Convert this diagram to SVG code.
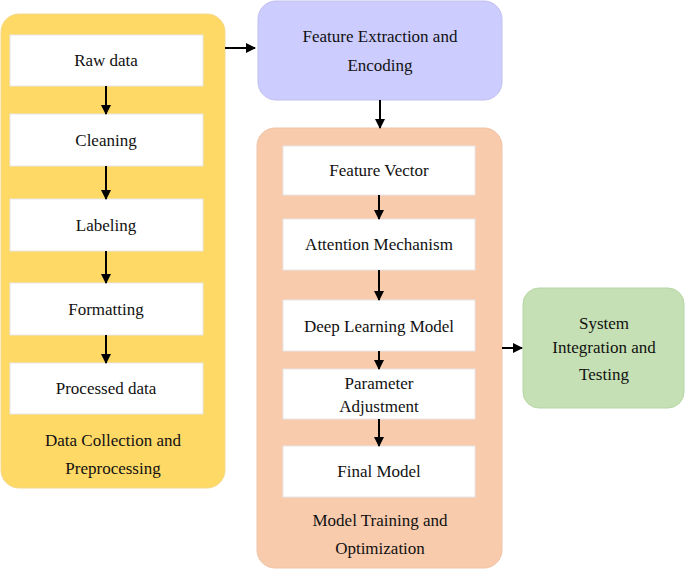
<svg xmlns="http://www.w3.org/2000/svg" width="685" height="569" viewBox="0 0 685 569">
<style>
text{font-family:"Liberation Serif","Times New Roman",serif;font-size:17px;fill:#111;text-anchor:middle}
.w{fill:#fff;stroke:#e6e6e6;stroke-width:1}
.a{stroke:#000;stroke-width:2;fill:none;marker-end:url(#ah)}
</style>
<defs><marker id="ah" markerWidth="10" markerHeight="10" refX="9" refY="5" orient="auto" markerUnits="userSpaceOnUse"><path d="M0,0 L10,5 L0,10 Z" fill="#000"/></marker></defs>
<g id="data-collection">
<rect x="1" y="14" width="224" height="474" rx="18" fill="#FFD966" stroke="#F5D88A"/>
<text x="113" y="446">Data Collection and</text><text x="113" y="474">Preprocessing</text>
</g>
<g id="raw"><rect class="w" x="10" y="35" width="193" height="51"/><text x="106" y="66">Raw data</text></g>
<g id="cleaning"><rect class="w" x="10" y="114" width="193" height="52"/><text x="106" y="146">Cleaning</text></g>
<g id="labeling"><rect class="w" x="10" y="199" width="193" height="52"/><text x="106" y="231">Labeling</text></g>
<g id="formatting"><rect class="w" x="10" y="283" width="193" height="52"/><text x="106" y="315">Formatting</text></g>
<g id="processed"><rect class="w" x="10" y="363" width="193" height="51"/><text x="106" y="394">Processed data</text></g>
<g id="feature-extraction"><rect x="258" y="1" width="244" height="99" rx="18" fill="#CCCCFF" stroke="#C0C0EE"/><text x="380" y="42">Feature Extraction and</text><text x="380" y="71">Encoding</text></g>
<g id="model-training"><rect x="257" y="128" width="245" height="440" rx="18" fill="#F8CBAD" stroke="#F0C4A6"/><text x="380" y="526">Model Training and</text><text x="380" y="554">Optimization</text></g>
<g id="fv"><rect class="w" x="283" y="146" width="192" height="49"/><text x="379" y="176">Feature Vector</text></g>
<g id="att"><rect class="w" x="283" y="219" width="192" height="51"/><text x="379" y="250">Attention Mechanism</text></g>
<g id="dl"><rect class="w" x="283" y="300" width="192" height="51"/><text x="379" y="332">Deep Learning Model</text></g>
<g id="param"><rect class="w" x="283" y="369" width="192" height="50"/><text x="379" y="389">Parameter</text><text x="379" y="412">Adjustment</text></g>
<g id="final"><rect class="w" x="283" y="446" width="192" height="51"/><text x="379" y="477">Final Model</text></g>
<g id="system"><rect x="523" y="288" width="161" height="120" rx="16" fill="#C5E0B4" stroke="#B8D6A6"/><text x="604" y="329">System</text><text x="604" y="353">Integration and</text><text x="604" y="380">Testing</text></g>
<g id="connectors">
<line class="a" x1="106" y1="86" x2="106" y2="114"/>
<line class="a" x1="106" y1="166" x2="106" y2="199"/>
<line class="a" x1="106" y1="251" x2="106" y2="283"/>
<line class="a" x1="106" y1="335" x2="106" y2="363"/>
<line class="a" x1="225" y1="48" x2="255" y2="48"/>
<line class="a" x1="380" y1="100" x2="380" y2="128"/>
<line class="a" x1="379" y1="195" x2="379" y2="219"/>
<line class="a" x1="379" y1="270" x2="379" y2="300"/>
<line class="a" x1="379" y1="351" x2="379" y2="369"/>
<line class="a" x1="379" y1="419" x2="379" y2="446"/>
<line class="a" x1="502" y1="348" x2="522" y2="348"/>
</g>
</svg>
